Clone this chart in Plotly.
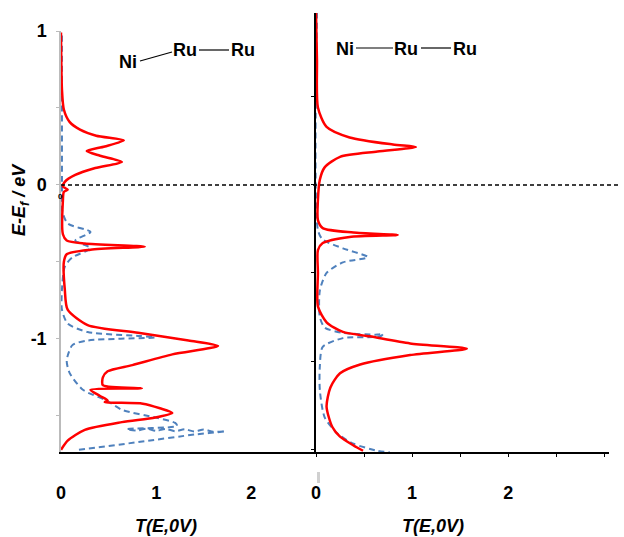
import plotly.graph_objects as go

# ---------------- data ----------------
# Left panel: Ni—Ru—Ru (bent)
left_red_T = [0.00, 0.01, 0.03, 0.09, 0.20, 0.37, 0.66, 0.46, 0.27, 0.41, 0.64, 0.36, 0.15, 0.04, 0.02, 0.07, 0.03,
              0.02, 0.02, 0.06, 0.25, 0.88, 0.31, 0.06, 0.03, 0.04, 0.07, 0.28, 0.81, 1.34, 1.65, 1.17, 0.75, 0.49,
              0.44, 0.44, 0.85, 0.31, 0.41, 0.49, 0.46, 0.86, 1.04, 1.17, 0.99, 0.64, 0.25, 0.07, 0.00]
left_red_E = [0.99, 0.62, 0.49, 0.41, 0.36, 0.32, 0.29, 0.25, 0.22, 0.19, 0.15, 0.11, 0.065, 0.02, -0.01, -0.03, -0.045,
              -0.10, -0.32, -0.36, -0.38, -0.40, -0.42, -0.45, -0.50, -0.68, -0.81, -0.91, -0.96, -1.01, -1.045, -1.10,
              -1.17, -1.21, -1.25, -1.30, -1.32, -1.33, -1.37, -1.40, -1.41, -1.42, -1.45, -1.48, -1.51, -1.54, -1.59,
              -1.66, -1.72]

left_blue_T = [0.01, 0.01, 0.01, 0.01, 0.07, 0.31, 0.15, 0.31, 0.12, 0.04, 0.01, 0.01, 0.07, 0.28, 0.83, 0.99, 0.28,
               0.12, 0.06, 0.09, 0.23, 0.48, 0.64, 0.99, 1.20, 1.22, 0.69, 0.80, 0.90, 1.00, 1.10, 1.20, 1.30, 1.40,
               1.50, 1.60, 1.73, 1.41, 0.81, 0.18]
left_blue_E = [0.97, 0.55, -0.03, -0.16, -0.25, -0.305, -0.36, -0.41, -0.47, -0.53, -0.68, -0.81, -0.90, -0.955, -0.98,
               -0.99, -1.01, -1.04, -1.14, -1.22, -1.33, -1.40, -1.46, -1.51, -1.545, -1.565, -1.585, -1.595, -1.582,
               -1.597, -1.584, -1.599, -1.586, -1.601, -1.588, -1.603, -1.60, -1.62, -1.67, -1.72]

# Right panel: Ni—Ru—Ru (linear)
right_red_T = [0.00, 0.01, 0.02, 0.11, 0.35, 0.80, 1.04, 0.64, 0.25, 0.09, 0.04, 0.02, 0.02, 0.07, 0.39, 0.85, 0.35,
               0.07, 0.02, 0.02, 0.02, 0.11, 0.28, 0.56, 0.98, 1.57, 0.98, 0.46, 0.25, 0.15, 0.11, 0.17, 0.25, 0.39,
               0.49]
right_red_E = [0.98, 0.71, 0.44, 0.33, 0.27, 0.23, 0.216, 0.19, 0.16, 0.10, 0.03, -0.085, -0.20, -0.245, -0.27, -0.284,
               -0.295, -0.33, -0.37, -0.50, -0.69, -0.78, -0.835, -0.86, -0.90, -0.93, -0.966, -1.02, -1.07, -1.15,
               -1.26, -1.375, -1.43, -1.48, -1.51]

right_blue_T = [0.01, 0.02, 0.07, 0.28, 0.54, 0.28, 0.11, 0.04, 0.04, 0.09, 0.28, 0.64, 0.70, 0.67, 0.28, 0.07, 0.04,
                0.04, 0.09, 0.22, 0.39, 0.64, 0.77]
right_blue_E = [0.98, -0.256, -0.31, -0.36, -0.41, -0.44, -0.50, -0.60, -0.75, -0.81, -0.84, -0.85, -0.845, -0.86,
                -0.87, -0.92, -1.03, -1.165, -1.32, -1.41, -1.47, -1.51, -1.52]

x_tick_vals = [0, 1, 2]
x_tick_text = ["<b>0</b>", "<b>1</b>", "<b>2</b>"]
y_tick_vals = [-1, 0, 1]
y_tick_text = ["<b>-1</b>", "<b>0</b>", "<b>1</b>"]

W, H = 624, 537
FONT = "Liberation Sans, Arial, sans-serif"
RED = "#FF0000"
BLUE = "#4F81BD"


def px(x):
    return x / W


def py(y):
    return 1 - y / H


fig = go.Figure()
line_red = dict(color=RED, width=2.5, shape="spline", smoothing=0.7)
line_blue = dict(color=BLUE, width=2, dash="6px,4px", shape="spline", smoothing=0.7)

fig.add_trace(go.Scatter(x=left_blue_T, y=left_blue_E, mode="lines", line=line_blue, xaxis="x", yaxis="y",
                         showlegend=False))
fig.add_trace(go.Scatter(x=left_red_T, y=left_red_E, mode="lines", line=line_red, xaxis="x", yaxis="y",
                         showlegend=False))
fig.add_trace(go.Scatter(x=right_blue_T, y=right_blue_E, mode="lines", line=line_blue, xaxis="x2", yaxis="y2",
                         showlegend=False))
fig.add_trace(go.Scatter(x=right_red_T, y=right_red_E, mode="lines", line=line_red, xaxis="x2", yaxis="y2",
                         showlegend=False))

tickfont = dict(family=FONT, size=18, color="black")

fig.update_layout(
    width=W, height=H,
    margin=dict(l=0, r=0, t=0, b=0, pad=0, autoexpand=False),
    paper_bgcolor="white", plot_bgcolor="rgba(0,0,0,0)",
    showlegend=False,
    xaxis=dict(domain=[px(61), px(316)], range=[0, 2.68], showgrid=False, zeroline=False, automargin=False,
               showline=True, linecolor="black", linewidth=1.5,
               tickmode="array", tickvals=x_tick_vals, ticktext=x_tick_text, ticks="",
               tickfont=tickfont, ticklabelstandoff=24, anchor="y"),
    yaxis=dict(domain=[py(452), py(31)], range=[-1.734, 1.0], showgrid=False, zeroline=False, automargin=False,
               showline=True, linecolor="#BBBBBB", linewidth=1.5,
               tickmode="array", tickvals=y_tick_vals, ticktext=y_tick_text, ticks="outside",
               ticklen=3, tickcolor="#BBBBBB", tickfont=tickfont, ticklabelstandoff=6, anchor="x",
               minor=dict(dtick=0.5, tick0=0, ticks="outside", ticklen=3, tickcolor="#BBBBBB")),
    xaxis2=dict(domain=[px(316), px(609)], range=[0, 3.05], showgrid=False, zeroline=False, automargin=False,
                showline=True, linecolor="black", linewidth=1.5,
                tickmode="array", tickvals=x_tick_vals, ticktext=x_tick_text, ticks="outside",
                ticklen=3, tickcolor="black", tickfont=tickfont, ticklabelstandoff=21, anchor="y2",
                minor=dict(dtick=0.5, tick0=0, ticks="outside", ticklen=3, tickcolor="black")),
    yaxis2=dict(domain=[py(452), py(13)], range=[-1.517, 0.977], showgrid=False, zeroline=False, automargin=False,
                showline=True, linecolor="black", linewidth=1.5,
                tickmode="linear", tick0=0, dtick=0.5, showticklabels=False, ticks="outside",
                ticklen=3, tickcolor="black", anchor="x2"),
)

# horizontal Fermi level line
fig.add_shape(type="line", xref="paper", yref="y", x0=px(61), x1=px(620), y0=0, y1=0,
              line=dict(color="black", width=1.3, dash="4px,3px"))
# small grey mark under the right axis
fig.add_shape(type="rect", xref="paper", yref="paper", x0=px(317), x1=px(320), y0=py(483), y1=py(472),
              line=dict(width=0), fillcolor="#D0D0D0")

# molecule sketches
mol_font = dict(family=FONT, size=18, color="black")
for txt, x, y in [("Ni", 128, 62), ("Ru", 185, 50), ("Ru", 243, 50),
                  ("Ni", 345, 49), ("Ru", 406, 49), ("Ru", 465, 49)]:
    fig.add_annotation(text=f"<b>{txt}</b>", x=px(x), y=py(y), xref="paper", yref="paper",
                       showarrow=False, font=mol_font, xanchor="center", yanchor="middle")
for x0, y0, x1, y1 in [(140, 61, 172, 52), (199, 50, 229, 50), (356, 48, 393, 48), (421, 48, 451, 48)]:
    fig.add_shape(type="line", xref="paper", yref="paper", x0=px(x0), y0=py(y0), x1=px(x1), y1=py(y1),
                  line=dict(color="black", width=1.2))

# axis titles
title_font = dict(family=FONT, size=18, color="black")
fig.add_annotation(text="<b><i>E-E<sub>f</sub> / eV</i></b>", x=px(20), y=py(200), xref="paper", yref="paper",
                   showarrow=False, textangle=-90, font=title_font, xanchor="center", yanchor="middle")
for xc in (166, 433):
    fig.add_annotation(text="<b><i>T(E,0V)</i></b>", x=px(xc), y=py(526), xref="paper", yref="paper",
                       showarrow=False, font=title_font, xanchor="center", yanchor="middle")
# tiny stray label near the origin of the left panel
fig.add_annotation(text="<b>0</b>", x=px(60), y=py(196), xref="paper", yref="paper", showarrow=False,
                   font=dict(family=FONT, size=8, color="black"), xanchor="center", yanchor="middle")

page_css = ("document.documentElement.style.margin='0';document.documentElement.style.overflow='hidden';"
            "document.body.style.margin='0';document.body.style.padding='0';document.body.style.overflow='hidden';"
            "var gd=document.getElementsByClassName('plotly-graph-div')[0];"
            "gd.style.position='fixed';gd.style.left='0px';gd.style.top='0px';")

fig.write_html("out.html", config={"displayModeBar": False}, post_script=page_css)
